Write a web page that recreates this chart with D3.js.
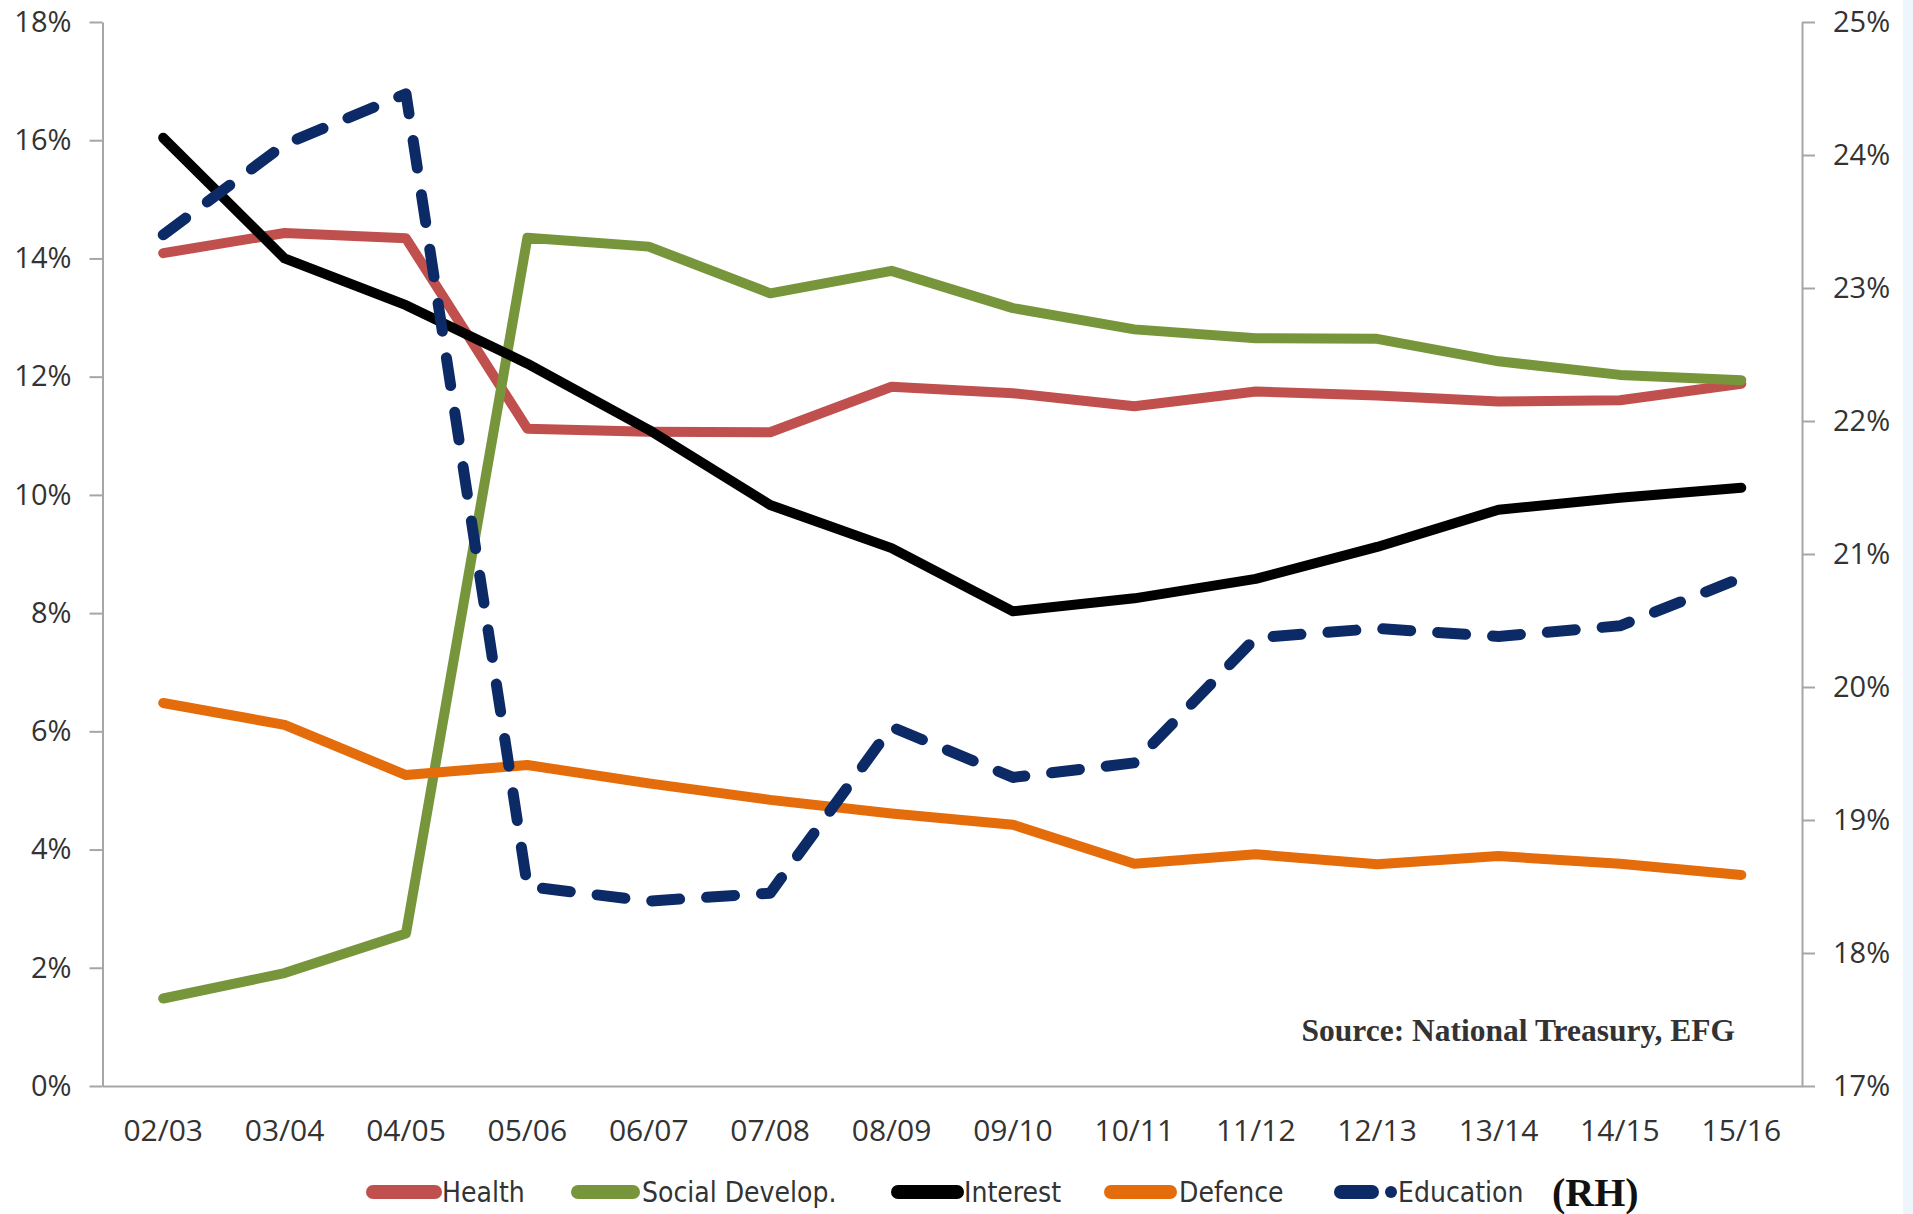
<!DOCTYPE html>
<html>
<head>
<meta charset="utf-8">
<script src="https://cdn.jsdelivr.net/npm/d3@7"></script>
<style>
  html, body { margin: 0; padding: 0; background: #ffffff; }
  svg { display: block; }
  .tick text { font-family: "Open Sans", sans-serif; fill: #333; }
</style>
</head>
<body>
<svg id="chart" width="1913" height="1214"></svg>
<script>
// Fiscal years
const categories = ["02/03","03/04","04/05","05/06","06/07","07/08","08/09","09/10","10/11","11/12","12/13","13/14","14/15","15/16"];

// Share of spending, % (left axis)
const health   = [14.09, 14.43, 14.34, 11.12, 11.07, 11.06, 11.83, 11.72, 11.50, 11.75, 11.68, 11.58, 11.60, 11.88];
const social   = [1.48, 1.91, 2.58, 14.35, 14.20, 13.41, 13.79, 13.16, 12.80, 12.65, 12.64, 12.26, 12.03, 11.94];
const interest = [16.04, 14.00, 13.21, 12.22, 11.10, 9.83, 9.10, 8.03, 8.25, 8.58, 9.12, 9.75, 9.95, 10.12];
const defence  = [6.48, 6.11, 5.26, 5.43, 5.12, 4.84, 4.61, 4.42, 3.76, 3.92, 3.75, 3.89, 3.76, 3.57];

// Education share, % (right axis)
const education = [23.40, 24.08, 24.46, 18.50, 18.39, 18.45, 19.70, 19.32, 19.43, 20.37, 20.44, 20.38, 20.46, 20.82];

// Axis ticks
const leftTicks  = [0, 2, 4, 6, 8, 10, 12, 14, 16, 18];
const rightTicks = [17, 18, 19, 20, 21, 22, 23, 24, 25];

const seriesNames = ["Health", "Social Develop.", "Interest", "Defence", "Education"];
const seriesColors = ["#c0504d", "#77963b", "#000000", "#e46c0a", "#0c2a66"];

const svg = d3.select("#chart");

// faint tint strip at the right edge
svg.append("rect").attr("x", 1903).attr("y", 0).attr("width", 10).attr("height", 1214).attr("fill", "#eef5fb");

const plot = { left: 102.5, right: 1802, top: 22, bottom: 1086 };

const x = d3.scaleBand().domain(categories).range([plot.left, plot.right]);
const cx = d => x(d) + x.bandwidth() / 2;
const yL = d3.scaleLinear().domain([0, 18]).range([plot.bottom, plot.top]);
const yR = d3.scaleLinear().domain([17, 25]).range([plot.bottom, plot.top]);

const axisColor = "#a6a6a6";

// Left axis
const gL = svg.append("g").attr("transform", `translate(${plot.left},0)`)
  .call(d3.axisLeft(yL).tickValues(leftTicks).tickFormat(d => d + "%").tickSize(13).tickSizeOuter(0).tickPadding(18));
// Right axis
const gR = svg.append("g").attr("transform", `translate(${plot.right},0)`)
  .call(d3.axisRight(yR).tickValues(rightTicks).tickFormat(d => d + "%").tickSize(13).tickSizeOuter(0).tickPadding(18));
// Bottom axis
const gB = svg.append("g").attr("transform", `translate(0,${plot.bottom})`)
  .call(d3.axisBottom(x).tickSize(0).tickSizeOuter(0).tickPadding(34));

[gL, gR, gB].forEach(g => {
  g.select(".domain").attr("stroke", axisColor).attr("stroke-width", 2);
  g.selectAll(".tick line").attr("stroke", axisColor).attr("stroke-width", 2);
  g.selectAll(".tick text").attr("font-size", 29).attr("fill", "#333");
});
gB.selectAll(".tick text").attr("font-size", 30);

// Series lines
const lineL = d3.line().x((d, i) => cx(categories[i])).y(d => yL(d));
const lineR = d3.line().x((d, i) => cx(categories[i])).y(d => yR(d));

const leftSeries = [health, social, interest, defence];
leftSeries.forEach((s, k) => {
  svg.append("path").datum(s)
    .attr("d", lineL)
    .attr("fill", "none")
    .attr("stroke", seriesColors[k])
    .attr("stroke-width", 10)
    .attr("stroke-linejoin", "round")
    .attr("stroke-linecap", "round");
});

svg.append("path").datum(education)
  .attr("d", lineR)
  .attr("fill", "none")
  .attr("stroke", seriesColors[4])
  .attr("stroke-width", 11)
  .attr("stroke-linejoin", "round")
  .attr("stroke-linecap", "round")
  .attr("stroke-dasharray", "28 27");

// Source note
svg.append("text")
  .attr("x", 1735).attr("y", 1041)
  .attr("text-anchor", "end")
  .attr("font-family", "'Liberation Serif', serif")
  .attr("font-weight", "bold")
  .attr("font-size", 31.5)
  .attr("fill", "#333")
  .text("Source: National Treasury, EFG");

// Legend
const legendY = 1192;
const legendItems = [
  { x0: 366, x1: 442, tx: 442 },
  { x0: 571, x1: 640, tx: 642 },
  { x0: 891, x1: 964, tx: 964 },
  { x0: 1104, x1: 1177, tx: 1179 },
  { x0: 1334, x1: 1379, tx: 1398 }
];
const legend = svg.append("g");
legendItems.forEach((it, k) => {
  legend.append("line")
    .attr("x1", it.x0 + 7).attr("x2", it.x1 - 7)
    .attr("y1", legendY).attr("y2", legendY)
    .attr("stroke", seriesColors[k])
    .attr("stroke-width", 14)
    .attr("stroke-linecap", "round");
  legend.append("text")
    .attr("x", it.tx).attr("y", legendY + 10)
    .attr("font-family", "'Liberation Sans Narrow', 'DejaVu Sans Condensed', 'Open Sans', sans-serif")
    .attr("font-size", 28)
    .attr("fill", "#333")
    .text(seriesNames[k]);
});
// trailing dot of the dashed swatch
legend.append("circle")
  .attr("cx", 1391).attr("cy", legendY)
  .attr("r", 6)
  .attr("fill", seriesColors[4]);
legend.append("text")
  .attr("x", 1552).attr("y", legendY + 14)
  .attr("font-family", "'Liberation Serif', serif")
  .attr("font-weight", "bold")
  .attr("font-size", 40)
  .attr("fill", "#111")
  .text("(RH)");
</script>
</body>
</html>
